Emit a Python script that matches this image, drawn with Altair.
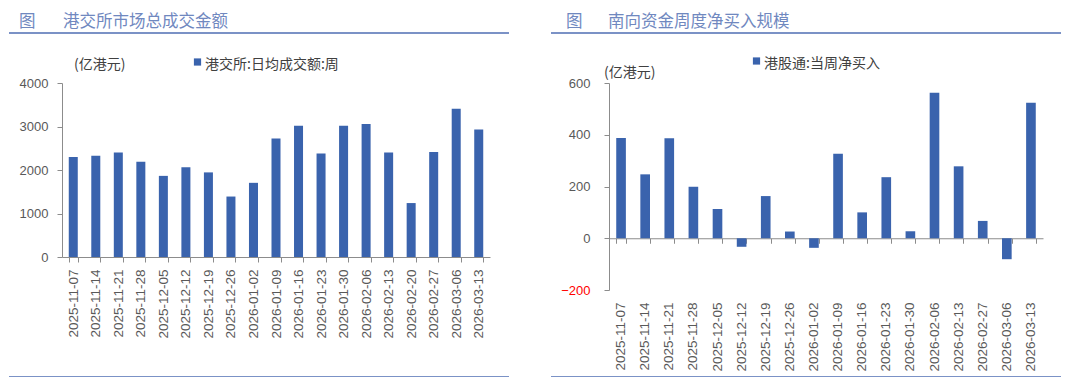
import altair as alt
import pandas as pd

# ---------------- data ----------------
weeks_hk = ["2025-11-07", "2025-11-14", "2025-11-21", "2025-11-28", "2025-12-05",
            "2025-12-12", "2025-12-19", "2025-12-26", "2026-01-02", "2026-01-09",
            "2026-01-16", "2026-01-23", "2026-01-30", "2026-02-06", "2026-02-13",
            "2026-02-20", "2026-02-27", "2026-03-06", "2026-03-13"]
turnover = [2300, 2325, 2400, 2190, 1865, 2065, 1945, 1390, 1705, 2725,
            3015, 2380, 3020, 3060, 2400, 1240, 2415, 3410, 2930]

weeks_sb = ["2025-11-07", "2025-11-14", "2025-11-21", "2025-11-28", "2025-12-05",
            "2025-12-12", "2025-12-19", "2025-12-26", "2026-01-02", "2026-01-09",
            "2026-01-16", "2026-01-23", "2026-01-30", "2026-02-06", "2026-02-13",
            "2026-02-27", "2026-03-06", "2026-03-13"]
netbuy = [387, 247, 386, 199, 113, -33, 163, 26, -37, 327,
          100, 236, 27, 562, 278, 67, -81, 524]

left_ticks = [0, 1000, 2000, 3000, 4000]
right_ticks = [-200, 0, 200, 400, 600]

title_left = "港交所市场总成交金额"
title_right = "南向资金周度净买入规模"
unit_text = "(亿港元)"
legend_left = "港交所:日均成交额:周"
legend_right = "港股通:当周净买入"

# ---------------- styles ----------------
BAR = "#3a63ad"
AXIS = "#8c8c8c"
LABEL = "#595959"
TITLE = "#7088bf"
LINE = "#7b92c6"
TEXT = "#404040"
CJK = "Noto Sans CJK SC"
NUM = "Liberation Sans"

one = pd.DataFrame({"a": [1]})

W1, H1 = 428, 174
W2, H2 = 434, 207
TY = -61


def txt(text, x, y, size, color, font=CJK):
    return alt.Chart(one).mark_text(
        text=text, align="left", baseline="middle", fontSize=size, color=color, font=font
    ).encode(x=alt.value(x), y=alt.value(y))


def hline(x1, x2, y, color=LINE, w=2):
    return alt.Chart(one).mark_rule(color=color, strokeWidth=w).encode(
        x=alt.value(x1), x2=alt.value(x2), y=alt.value(y))


def square(x, y):
    return alt.Chart(one).mark_square(color=BAR, size=52, opacity=1).encode(
        x=alt.value(x), y=alt.value(y))


# ---------------- left panel ----------------
df1 = pd.DataFrame({"week": weeks_hk, "value": turnover})
band = alt.Scale(paddingInner=0.6, paddingOuter=0.3)

bars1 = alt.Chart(df1).mark_bar(color=BAR).encode(
    x=alt.X("week:N", sort=None, title=None, scale=band,
            axis=alt.Axis(labelAngle=270, tickBand="extent", tickSize=5,
                          tickColor=AXIS, domainColor=AXIS, labelPadding=7,
                          labelFont=NUM, labelFontSize=13.5, labelColor=LABEL,
                          labelOverlap=False, grid=False)),
    y=alt.Y("value:Q", title=None, scale=alt.Scale(domain=[0, 4000], nice=False),
            axis=alt.Axis(values=left_ticks, format="d", grid=False, tickSize=5,
                          tickColor=AXIS, domainColor=AXIS, labelPadding=9,
                          labelFont=NUM, labelFontSize=13, labelColor=LABEL)),
)

left = alt.layer(
    bars1,
    txt("图", -43, TY, 16.5, TITLE),
    txt(title_left, 1, TY, 16.5, TITLE),
    hline(-53, 447, -50),
    hline(-53, 447, 294),
    txt(unit_text, 12, -18, 14, TEXT),
    square(135.5, -21),
    txt(legend_left, 143, -18, 14, TEXT),
).properties(width=W1, height=H1)

# ---------------- right panel ----------------
df2 = pd.DataFrame({"week": weeks_sb, "value": netbuy})
zero_offset = -(H2 * 200 / 800)

bars2 = alt.Chart(df2).mark_bar(color=BAR).encode(
    x=alt.X("week:N", sort=None, title=None, scale=band,
            axis=alt.Axis(orient="bottom", labelAngle=270, ticks=False, domain=False,
                          labelPadding=12, labelFont=NUM, labelFontSize=13.5,
                          labelColor=LABEL, labelOverlap=False, grid=False)),
    y=alt.Y("value:Q", title=None, scale=alt.Scale(domain=[-200, 600], nice=False),
            axis=alt.Axis(values=right_ticks, format="d", grid=False, tickSize=5,
                          tickColor=AXIS, domainColor=AXIS, labelPadding=14,
                          labelFont=NUM, labelFontSize=13,
                          labelColor={"condition": {"test": "datum.value < 0", "value": "#ff0000"},
                                      "value": LABEL})),
)

zero_axis = alt.Chart(df2).mark_point(opacity=0, size=0).encode(
    x=alt.X("week:N", sort=None, title=None, scale=band,
            axis=alt.Axis(orient="bottom", labels=False, tickBand="extent", tickSize=5,
                          tickColor=AXIS, domainColor=AXIS, offset=zero_offset,
                          grid=False)),
)

right = alt.layer(
    bars2,
    zero_axis,
    txt("图", -43, TY, 16.5, TITLE),
    txt(title_right, -1, TY, 16.5, TITLE),
    hline(-58, 452, -50),
    hline(-58, 452, 294),
    txt(unit_text, -5, -10, 14, TEXT),
    square(147.5, -22),
    txt(legend_right, 155, -19, 14, TEXT),
).resolve_axis(x="independent").properties(width=W2, height=H2)

chart = alt.hconcat(
    left, right, spacing=119, bounds="flush",
    padding={"top": 6, "left": 0, "right": 0, "bottom": 0},
).configure_view(stroke=None)

chart.save("out.html", embed_options={"renderer": "svg", "actions": False})
